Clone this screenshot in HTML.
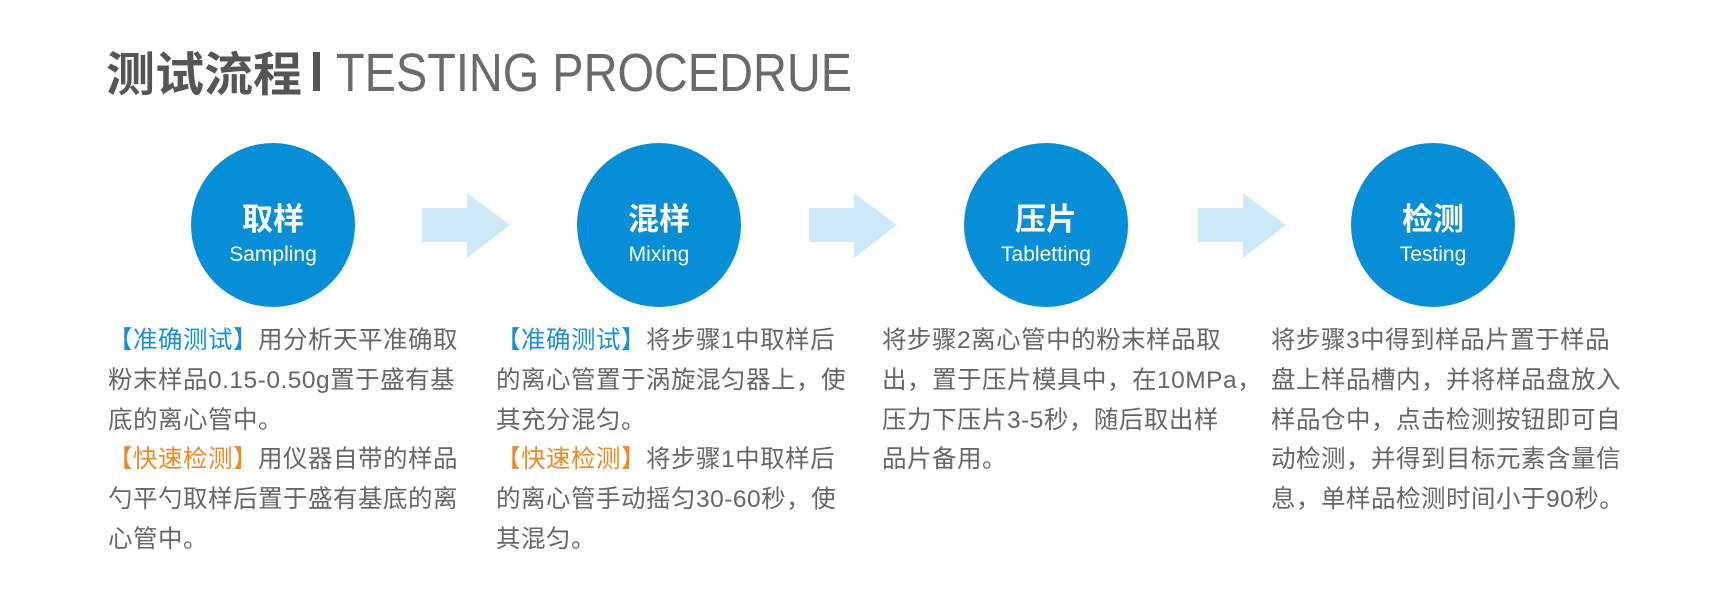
<!DOCTYPE html>
<html><head><meta charset="utf-8"><style>
body{margin:0;width:1721px;height:590px;background:#fff;position:relative;overflow:hidden;font-family:"Liberation Sans","Noto Sans CJK SC",sans-serif;}
.c{position:absolute;top:143px;width:164px;height:164px;border-radius:50%;background:#078ed6;color:#fff;text-align:center;}
.c .z{position:absolute;top:56px;left:0;right:0;font-size:31px;font-weight:bold;line-height:36px;font-family:"Noto Sans CJK SC",sans-serif;}
.c .e{position:absolute;top:100px;left:0;right:0;font-size:21px;line-height:24px;}
.t{position:absolute;top:321px;font-size:24.5px;line-height:39.8px;color:#666;white-space:nowrap;font-family:"Liberation Sans","Noto Sans CJK SC",sans-serif;letter-spacing:0.5px;}
.b{color:#1a8fd6}.o{color:#ee8a25}
</style></head><body>
<svg width="1721" height="590" style="position:absolute;left:0;top:0">
<text x="106" y="91" font-family="Noto Sans CJK SC, sans-serif" font-weight="bold" font-size="47" fill="#555" textLength="196" lengthAdjust="spacingAndGlyphs">测试流程</text>
<rect x="313" y="52" width="7" height="39" fill="#555"/>
<text x="336" y="91" font-family="Liberation Sans, sans-serif" font-size="54" fill="#6a6a6a" textLength="516" lengthAdjust="spacingAndGlyphs">TESTING PROCEDRUE</text>
<g fill="#cde9f8">
<polygon points="422,208 467,208 467,193 510,225 467,258 467,242 422,242"/>
<polygon points="809,208 854,208 854,193 897,225 854,258 854,242 809,242"/>
<polygon points="1198,208 1243,208 1243,193 1286,225 1243,258 1243,242 1198,242"/>
</g>
</svg>
<div class="c" style="left:191px"><div class="z">取样</div><div class="e">Sampling</div></div>
<div class="c" style="left:577px"><div class="z">混样</div><div class="e">Mixing</div></div>
<div class="c" style="left:964px"><div class="z">压片</div><div class="e">Tabletting</div></div>
<div class="c" style="left:1351px"><div class="z">检测</div><div class="e">Testing</div></div>
<div class="t" style="left:108px"><span class="b">【准确测试】</span>用分析天平准确取<br>粉末样品0.15-0.50g置于盛有基<br>底的离心管中。<br><span class="o">【快速检测】</span>用仪器自带的样品<br>勺平勺取样后置于盛有基底的离<br>心管中。</div>
<div class="t" style="left:496px"><span class="b">【准确测试】</span>将步骤1中取样后<br>的离心管置于涡旋混匀器上，使<br>其充分混匀。<br><span class="o">【快速检测】</span>将步骤1中取样后<br>的离心管手动摇匀30-60秒，使<br>其混匀。</div>
<div class="t" style="left:882px">将步骤2离心管中的粉末样品取<br>出，置于压片模具中，在10MPa，<br>压力下压片3-5秒，随后取出样<br>品片备用。</div>
<div class="t" style="left:1271px">将步骤3中得到样品片置于样品<br>盘上样品槽内，并将样品盘放入<br>样品仓中，点击检测按钮即可自<br>动检测，并得到目标元素含量信<br>息，单样品检测时间小于90秒。</div>
</body></html>
